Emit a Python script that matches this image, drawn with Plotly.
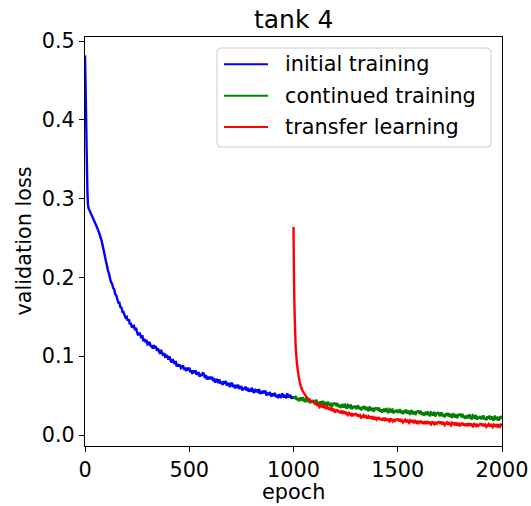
import plotly.graph_objects as go

# ---- data: validation loss per epoch ----
blue_epoch = [0, 2, 4, 6, 8, 10, 12, 14, 17, 20, 25, 30, 40, 50, 60, 70, 80, 90] \
    + list(range(100, 1001, 5))
blue_loss = [
    0.482, 0.455, 0.425, 0.392, 0.360, 0.330, 0.305, 0.293, 0.288, 0.286, 0.283,
    0.280, 0.274, 0.268, 0.262, 0.255, 0.246, 0.234,
    0.2210, 0.2155, 0.2085, 0.2050, 0.1990, 0.1940, 0.1920, 0.1865,
    0.1850, 0.1790, 0.1770, 0.1725, 0.1680, 0.1680, 0.1620, 0.1615, 0.1560, 0.1560, 0.1520, 0.1490,
    0.1500, 0.1450, 0.1470, 0.1405, 0.1420, 0.1365, 0.1380, 0.1385, 0.1330, 0.1360,
    0.1300, 0.1265, 0.1300, 0.1275, 0.1230, 0.1265, 0.1190, 0.1220, 0.1190, 0.1205,
    0.1150, 0.1160, 0.1180, 0.1120, 0.1140, 0.1095, 0.1140, 0.1100, 0.1130, 0.1070,
    0.1100, 0.1060, 0.1030, 0.1080, 0.1040, 0.1010, 0.1040, 0.0980, 0.1010, 0.1005,
    0.0955, 0.0998, 0.0950, 0.0920, 0.0960, 0.0940, 0.0900, 0.0940, 0.0870, 0.0900,
    0.0870, 0.0895, 0.0850, 0.0862, 0.0885, 0.0830, 0.0855, 0.0810, 0.0855, 0.0820,
    0.0855, 0.0798, 0.0820, 0.0775, 0.0820, 0.0785, 0.0820, 0.0765, 0.0780, 0.0795,
    0.0740, 0.0775, 0.0750, 0.0785, 0.0780, 0.0725, 0.0760, 0.0705, 0.0740, 0.0705,
    0.0740, 0.0705, 0.0740, 0.0685, 0.0700, 0.0665, 0.0710, 0.0695, 0.0660, 0.0705,
    0.0650, 0.0678, 0.0635, 0.0683, 0.0650, 0.0685, 0.0630, 0.0645, 0.0660, 0.0608,
    0.0645, 0.0663, 0.0610, 0.0635, 0.0590, 0.0635, 0.0600, 0.0638, 0.0585, 0.0603,
    0.0620, 0.0565, 0.0600, 0.0578, 0.0615, 0.0563, 0.0600, 0.0548, 0.0585, 0.0553,
    0.0600, 0.0558, 0.0535, 0.0583, 0.0560, 0.0578, 0.0535, 0.0583, 0.0520, 0.0558,
    0.0525, 0.0563, 0.0530, 0.0565, 0.0500, 0.0538, 0.0505, 0.0543, 0.0520, 0.0485,
    0.0530, 0.0498, 0.0535, 0.0483, 0.0510, 0.0468, 0.0515, 0.0493, 0.0470, 0.0525,
    0.0510, 0.0475, 0.0510, 0.0465, 0.0530, 0.0475, 0.0490, 0.0510, 0.0460, 0.0490,
    0.0460]

green_epoch = list(range(1000, 2001, 5))
green_loss = [
    0.0490, 0.0458, 0.0496, 0.0444, 0.0472, 0.0430, 0.0458, 0.0476, 0.0434, 0.0482,
    0.0440, 0.0417, 0.0464, 0.0451, 0.0418, 0.0465, 0.0402, 0.0439, 0.0416, 0.0443,
    0.0400, 0.0418, 0.0446, 0.0394, 0.0422, 0.0380, 0.0428, 0.0396, 0.0434, 0.0382,
    0.0420, 0.0388, 0.0366, 0.0424, 0.0392, 0.0370, 0.0408, 0.0356, 0.0394, 0.0402,
    0.0400, 0.0369, 0.0407, 0.0356, 0.0384, 0.0343, 0.0371, 0.0390, 0.0348, 0.0397,
    0.0355, 0.0334, 0.0382, 0.0371, 0.0339, 0.0388, 0.0326, 0.0365, 0.0343, 0.0372,
    0.0330, 0.0349, 0.0377, 0.0326, 0.0354, 0.0313, 0.0361, 0.0330, 0.0368, 0.0317,
    0.0355, 0.0324, 0.0302, 0.0361, 0.0329, 0.0308, 0.0346, 0.0295, 0.0333, 0.0342,
    0.0340, 0.0309, 0.0348, 0.0297, 0.0326, 0.0285, 0.0314, 0.0333, 0.0292, 0.0341,
    0.0300, 0.0279, 0.0328, 0.0317, 0.0286, 0.0335, 0.0274, 0.0313, 0.0292, 0.0321,
    0.0280, 0.0299, 0.0328, 0.0277, 0.0306, 0.0265, 0.0314, 0.0283, 0.0322, 0.0271,
    0.0310, 0.0279, 0.0258, 0.0317, 0.0286, 0.0265, 0.0304, 0.0253, 0.0292, 0.0301,
    0.0300, 0.0269, 0.0308, 0.0257, 0.0286, 0.0245, 0.0274, 0.0293, 0.0252, 0.0301,
    0.0260, 0.0239, 0.0288, 0.0277, 0.0246, 0.0295, 0.0234, 0.0273, 0.0272, 0.0291,
    0.0240, 0.0259, 0.0288, 0.0237, 0.0266, 0.0225, 0.0274, 0.0243, 0.0282, 0.0231,
    0.0270, 0.0239, 0.0218, 0.0277, 0.0246, 0.0225, 0.0264, 0.0213, 0.0252, 0.0261,
    0.0260, 0.0229, 0.0268, 0.0217, 0.0246, 0.0205, 0.0234, 0.0253, 0.0212, 0.0261,
    0.0220, 0.0199, 0.0248, 0.0237, 0.0206, 0.0255, 0.0194, 0.0233, 0.0212, 0.0241,
    0.0200, 0.0219, 0.0249, 0.0198, 0.0228, 0.0187, 0.0237, 0.0206, 0.0246, 0.0195,
    0.0235, 0.0204, 0.0183, 0.0243, 0.0213, 0.0192, 0.0232, 0.0182, 0.0221, 0.0231,
    0.0205]

red_epoch = [1000, 1001, 1002, 1003, 1004, 1006, 1008, 1010, 1013, 1016, 1020, 1025,
             1030, 1035, 1040, 1050, 1060, 1070, 1080, 1090] + list(range(1100, 2001, 5))
red_loss = [
    0.264, 0.235, 0.210, 0.190, 0.172, 0.148, 0.130, 0.115, 0.102, 0.092, 0.083,
    0.074, 0.067, 0.062, 0.058, 0.053, 0.049, 0.046, 0.044, 0.042,
    0.0415, 0.0385, 0.0410, 0.0370, 0.0385, 0.0355, 0.0370, 0.0380, 0.0345, 0.0378,
    0.0350, 0.0331, 0.0361, 0.0347, 0.0322, 0.0353, 0.0308, 0.0329, 0.0309, 0.0330,
    0.0295, 0.0307, 0.0324, 0.0286, 0.0308, 0.0275, 0.0307, 0.0284, 0.0306, 0.0268,
    0.0295, 0.0267, 0.0254, 0.0291, 0.0268, 0.0250, 0.0277, 0.0239, 0.0261, 0.0268,
    0.0265, 0.0238, 0.0266, 0.0229, 0.0247, 0.0220, 0.0238, 0.0251, 0.0219, 0.0252,
    0.0225, 0.0208, 0.0241, 0.0229, 0.0207, 0.0240, 0.0198, 0.0221, 0.0204, 0.0227,
    0.0195, 0.0209, 0.0227, 0.0191, 0.0214, 0.0183, 0.0216, 0.0195, 0.0218, 0.0182,
    0.0210, 0.0184, 0.0173, 0.0212, 0.0191, 0.0175, 0.0204, 0.0168, 0.0192, 0.0201,
    0.0200, 0.0174, 0.0203, 0.0167, 0.0186, 0.0160, 0.0179, 0.0193, 0.0162, 0.0196,
    0.0170, 0.0154, 0.0188, 0.0177, 0.0156, 0.0190, 0.0149, 0.0173, 0.0157, 0.0181,
    0.0150, 0.0164, 0.0183, 0.0147, 0.0171, 0.0140, 0.0174, 0.0153, 0.0177, 0.0141,
    0.0170, 0.0145, 0.0134, 0.0174, 0.0153, 0.0138, 0.0167, 0.0132, 0.0156, 0.0166,
    0.0165, 0.0139, 0.0169, 0.0133, 0.0152, 0.0126, 0.0146, 0.0160, 0.0129, 0.0164,
    0.0138, 0.0122, 0.0157, 0.0146, 0.0126, 0.0160, 0.0119, 0.0144, 0.0128, 0.0153,
    0.0122, 0.0136, 0.0156, 0.0120, 0.0144, 0.0114, 0.0148, 0.0127, 0.0151, 0.0116,
    0.0145, 0.0120, 0.0109, 0.0149, 0.0128, 0.0113, 0.0142, 0.0107, 0.0131, 0.0141,
    0.0140, 0.0115, 0.0144, 0.0109, 0.0128, 0.0103, 0.0122, 0.0137, 0.0106, 0.0141,
    0.0115, 0.0100, 0.0134, 0.0124, 0.0103, 0.0138, 0.0097, 0.0122, 0.0106, 0.0131,
    0.0115]

series_names = ["initial training", "continued training", "transfer learning"]
series_colors = ["#0000ff", "#008000", "#ff0000"]
x_ticks = [0, 500, 1000, 1500, 2000]
y_ticks = [0.0, 0.1, 0.2, 0.3, 0.4, 0.5]

FONT = "DejaVu Sans"
W, H = 531, 506
L, R, T, B = 85, 502, 37, 446  # plot area in pixels


def px(x):
    return (x - L) / (R - L)


def py(y):
    return (B - y) / (B - T)


fig = go.Figure()
for xs, ys, name, color in zip([blue_epoch, green_epoch, red_epoch],
                               [blue_loss, green_loss, red_loss],
                               series_names, series_colors):
    fig.add_trace(go.Scatter(x=xs, y=ys, mode="lines", name=name,
                             line=dict(color=color, width=2.4, simplify=False),
                             showlegend=False))

axis_common = dict(showgrid=False, zeroline=False, showline=True, linecolor="black",
                   linewidth=1.1, mirror=True, ticks="outside", ticklen=5, tickwidth=1.1,
                   tickcolor="black", automargin=False,
                   tickfont=dict(family=FONT, size=20.8, color="black"))
fig.update_xaxes(range=[0, 2000], tickvals=x_ticks, ticktext=[str(v) for v in x_ticks],
                 **axis_common)
fig.update_yaxes(range=[-0.01396, 0.5051], tickvals=y_ticks,
                 ticktext=[f"{v:.1f}" for v in y_ticks], **axis_common)

# legend box with rounded corners
lx0, lx1, ly0, ly1, r = 217, 491, 48, 147, 4
path = (f"M {px(lx0 + r)},{py(ly0)} L {px(lx1 - r)},{py(ly0)} "
        f"Q {px(lx1)},{py(ly0)} {px(lx1)},{py(ly0 + r)} "
        f"L {px(lx1)},{py(ly1 - r)} Q {px(lx1)},{py(ly1)} {px(lx1 - r)},{py(ly1)} "
        f"L {px(lx0 + r)},{py(ly1)} Q {px(lx0)},{py(ly1)} {px(lx0)},{py(ly1 - r)} "
        f"L {px(lx0)},{py(ly0 + r)} Q {px(lx0)},{py(ly0)} {px(lx0 + r)},{py(ly0)} Z")
fig.add_shape(type="path", path=path, xref="paper", yref="paper",
              fillcolor="rgba(255,255,255,0.8)", line=dict(color="#cccccc", width=1))

rows_y = [64.3, 95.7, 127.0]
for name, color, ry in zip(series_names, series_colors, rows_y):
    fig.add_shape(type="line", xref="paper", yref="paper",
                  x0=px(224), x1=px(268), y0=py(ry), y1=py(ry),
                  line=dict(color=color, width=2.1))
    fig.add_annotation(text=name, xref="paper", yref="paper", x=px(283), y=py(ry),
                       xanchor="left", yanchor="middle", showarrow=False,
                       font=dict(family=FONT, size=20.8, color="black"))

# title and axis labels
fig.add_annotation(text="tank 4", xref="paper", yref="paper", x=0.5, y=py(19.5),
                   xanchor="center", yanchor="middle", showarrow=False,
                   font=dict(family=FONT, size=25, color="black"))
fig.add_annotation(text="epoch", xref="paper", yref="paper", x=0.5, y=py(492),
                   xanchor="center", yanchor="middle", showarrow=False,
                   font=dict(family=FONT, size=20.8, color="black"))
fig.add_annotation(text="validation loss", xref="paper", yref="paper", x=px(23), y=0.5,
                   xanchor="center", yanchor="middle", textangle=-90, showarrow=False,
                   font=dict(family=FONT, size=20.8, color="black"))

fig.update_layout(width=W, height=H, margin=dict(l=L, r=W - R, t=T, b=H - B),
                  paper_bgcolor="white", plot_bgcolor="white")

fig.write_html("out.html")
